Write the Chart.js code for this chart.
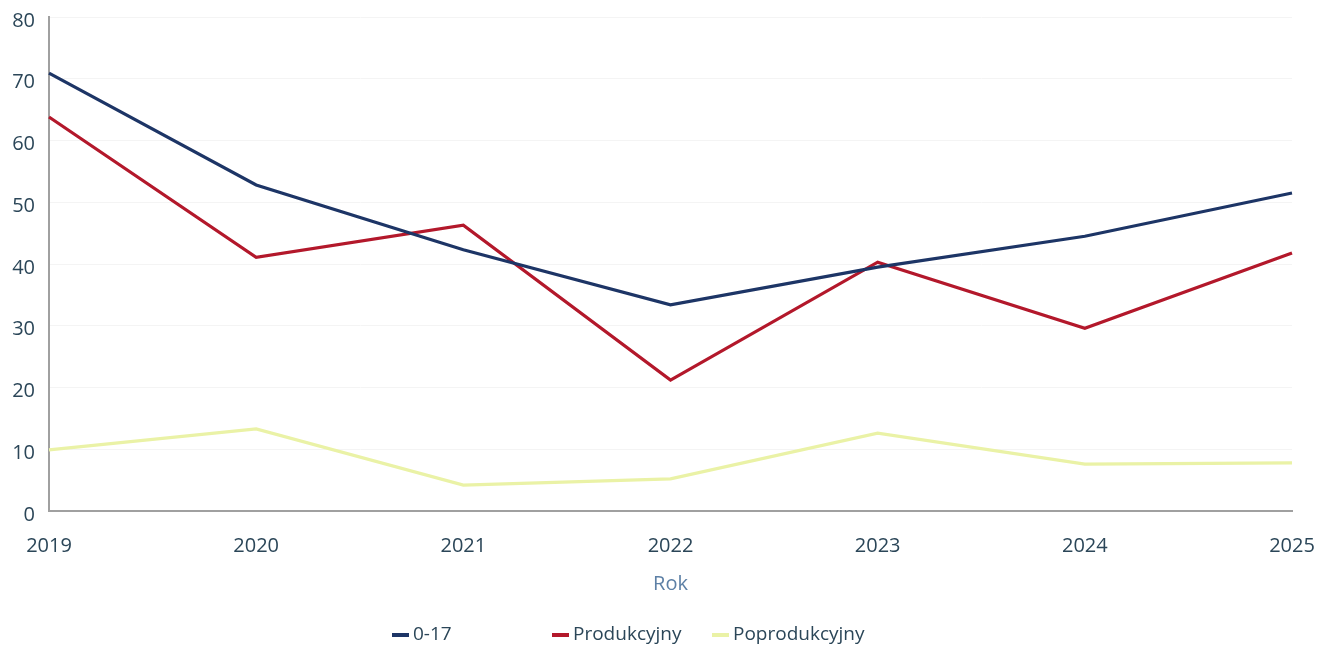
<!DOCTYPE html>
<html>
<head>
<meta charset="utf-8">
<script src="https://cdn.jsdelivr.net/npm/chart.js@4/dist/chart.umd.min.js"></script>
<style>
  html, body { margin: 0; padding: 0; background: #fff; }
  #wrap { position: relative; width: 1330px; height: 649px; }
  #legend { position: absolute; left: 392px; top: 620px; font-family: "Open Sans", sans-serif; font-size: 19px; color: #2b4658; white-space: nowrap; }
  #legend span.item { display: inline-block; width: 160px; }
  #legend span.box { display: inline-block; width: 17px; height: 4px; margin-right: 4px; vertical-align: middle; }
</style>
</head>
<body>
<div id="wrap">
  <canvas id="myChart" width="1330" height="649"></canvas>
  <div id="legend"></div>
</div>
<script>
const years = ['2019', '2020', '2021', '2022', '2023', '2024', '2025'];
const youth = [70.9, 52.8, 42.3, 33.4, 39.5, 44.5, 51.5];
const working = [63.8, 41.1, 46.3, 21.2, 40.3, 29.6, 41.8];
const retired = [9.9, 13.3, 4.2, 5.2, 12.6, 7.6, 7.8];
const seriesNames = ['0-17', 'Produkcyjny', 'Poprodukcyjny'];
const seriesColors = ['#1d3566', '#b3182b', '#eaf2a6'];

const textColor = '#2b4658';

new Chart(document.getElementById('myChart').getContext('2d'), {
    type: 'line',
    data: {
        labels: years,
        datasets: [youth, working, retired].map((vals, i) => ({
            label: seriesNames[i],
            data: vals,
            borderColor: seriesColors[i],
            backgroundColor: seriesColors[i],
            borderWidth: 3.2,
            pointRadius: 0,
            tension: 0,
            fill: false
        }))
    },
    options: {
        responsive: false,
        animation: false,
        layout: { padding: { top: 17, right: 38, left: 0, bottom: 0 } },
        plugins: {
            legend: { display: false },
            tooltip: { enabled: false }
        },
        scales: {
            x: {
                offset: false,
                grid: { display: false, drawTicks: false },
                border: { display: true, color: '#a0a0a0', width: 2 },
                ticks: {
                    color: textColor,
                    padding: 23,
                    maxRotation: 0,
                    font: { family: 'Open Sans', size: 20 }
                },
                title: {
                    display: true,
                    text: 'Rok',
                    color: '#5d80a6',
                    padding: { top: 0, bottom: 53 },
                    font: { family: 'Open Sans', size: 20 }
                },
                afterFit: (scale) => {
                    scale.height = 138;
                    scale.paddingLeft = 0;
                    scale.paddingRight = 0;
                }
            },
            y: {
                min: 0,
                max: 80,
                grid: { color: '#f4f4f4', drawTicks: false },
                border: { display: true, color: '#a0a0a0', width: 2 },
                ticks: {
                    stepSize: 10,
                    color: textColor,
                    padding: 14,
                    labelOffset: 4,
                    font: { family: 'Open Sans', size: 20 }
                },
                afterFit: (scale) => {
                    scale.width = 49;
                    scale.paddingTop = 0;
                    scale.paddingBottom = 0;
                }
            }
        }
    }
});

const legend = document.getElementById('legend');
seriesNames.forEach((name, i) => {
    const item = document.createElement('span');
    item.className = 'item';
    const box = document.createElement('span');
    box.className = 'box';
    box.style.background = seriesColors[i];
    item.appendChild(box);
    item.appendChild(document.createTextNode(name));
    legend.appendChild(item);
});
</script>
</body>
</html>
